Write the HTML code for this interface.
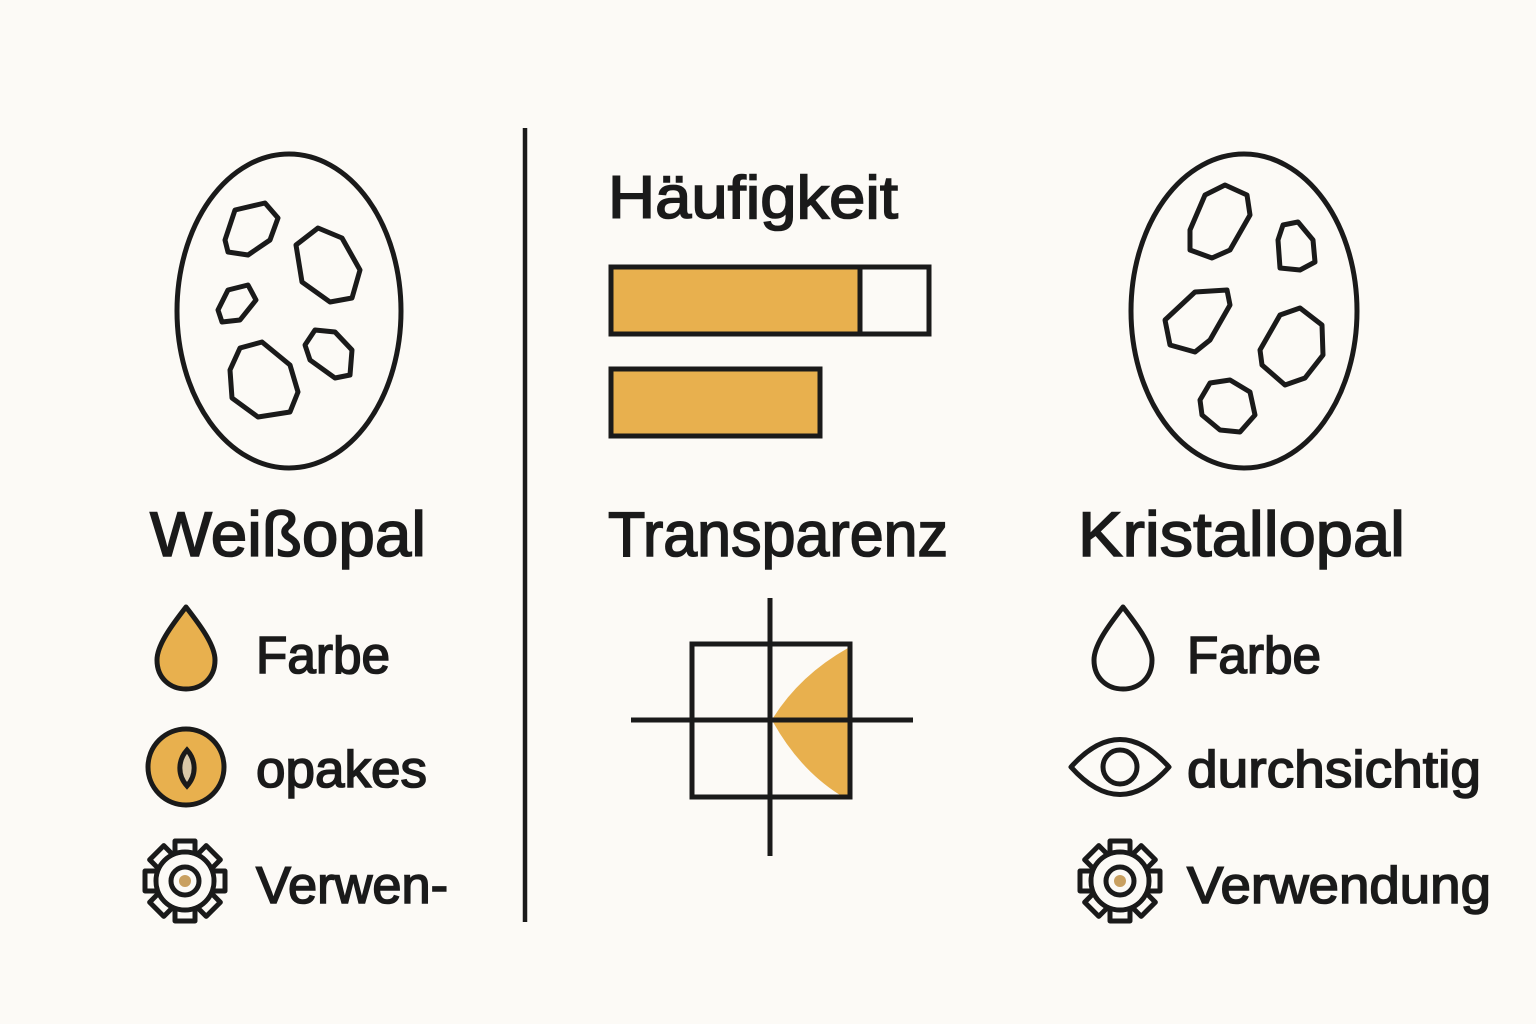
<!DOCTYPE html>
<html><head><meta charset="utf-8"><style>
html,body{margin:0;padding:0;background:#fcfaf6;}
svg{display:block}
text{font-family:"Liberation Sans",sans-serif;fill:#1a1a1a;stroke:#1a1a1a;stroke-width:1.6px;}
</style></head><body>
<svg width="1536" height="1024" viewBox="0 0 1536 1024" xmlns="http://www.w3.org/2000/svg">
<defs>
<g id="gear">
  <g fill="#fcfaf6" stroke="#1a1a1a" stroke-width="5" stroke-linejoin="round">
    <rect x="-10" y="-40" width="20" height="16" transform="rotate(0)"/>
    <rect x="-10" y="-40" width="20" height="16" transform="rotate(45)"/>
    <rect x="-10" y="-40" width="20" height="16" transform="rotate(90)"/>
    <rect x="-10" y="-40" width="20" height="16" transform="rotate(135)"/>
    <rect x="-10" y="-40" width="20" height="16" transform="rotate(180)"/>
    <rect x="-10" y="-40" width="20" height="16" transform="rotate(225)"/>
    <rect x="-10" y="-40" width="20" height="16" transform="rotate(270)"/>
    <rect x="-10" y="-40" width="20" height="16" transform="rotate(315)"/>
  </g>
  <circle r="29" fill="#fcfaf6" stroke="#1a1a1a" stroke-width="5"/>
  <circle r="26.5" fill="#fcfaf6"/>
  <circle r="14" fill="none" stroke="#1a1a1a" stroke-width="5"/>
  <circle r="6" fill="#c9a060"/>
</g>
</defs>
<g fill="none" stroke="#1a1a1a" stroke-width="5" stroke-linejoin="round">
  <ellipse cx="289" cy="311" rx="112" ry="157"/>
  <ellipse cx="1244" cy="311" rx="113" ry="157"/>
  <path d="M225,240 L235,210 L265,203 L278,218 L270,240 L248,255 L228,252 Z"/>
  <path d="M296,245 L318,228 L342,238 L360,270 L352,298 L330,302 L302,282 Z"/>
  <path d="M218,310 L228,290 L248,285 L256,300 L240,320 L222,322 Z"/>
  <path d="M230,370 L240,348 L262,342 L290,365 L298,392 L290,412 L258,417 L232,398 Z"/>
  <path d="M305,345 L315,330 L335,332 L352,350 L350,375 L335,378 L310,360 Z"/>
  <path d="M1190,230 L1205,195 L1225,185 L1247,195 L1250,215 L1230,250 L1212,258 L1190,250 Z"/>
  <path d="M1278,240 L1283,225 L1298,222 L1313,240 L1315,262 L1300,270 L1280,268 Z"/>
  <path d="M1165,320 L1195,292 L1227,290 L1230,305 L1210,340 L1195,352 L1170,345 Z"/>
  <path d="M1260,350 L1280,315 L1300,308 L1322,325 L1323,355 L1305,378 L1285,385 L1262,365 Z"/>
  <path d="M1200,400 L1210,383 L1230,380 L1250,392 L1255,415 L1240,432 L1220,430 L1202,415 Z"/>
</g>
<line x1="525" y1="128" x2="525" y2="922" stroke="#1a1a1a" stroke-width="4.5"/>
<rect x="611" y="267" width="249" height="67" fill="#e8b04e"/>
<rect x="611" y="267" width="318" height="67" fill="none" stroke="#1a1a1a" stroke-width="5"/>
<line x1="860" y1="267" x2="860" y2="334" stroke="#1a1a1a" stroke-width="5"/>
<rect x="611" y="369" width="209" height="67" fill="#e8b04e" stroke="#1a1a1a" stroke-width="5"/>
<path d="M773,718 Q800,675 848,648 L848,795 L840,795 Q800,770 773,722 Z" fill="#e8b04e"/>
<g stroke="#1a1a1a" stroke-width="5" fill="none">
  <rect x="692" y="644" width="158" height="153"/>
  <line x1="770" y1="598" x2="770" y2="856"/>
  <line x1="631" y1="720" x2="913" y2="720"/>
</g>
<text x="150" y="556" font-size="63" textLength="276" lengthAdjust="spacingAndGlyphs">Weißopal</text>
<text x="608" y="218" font-size="60" textLength="290" lengthAdjust="spacingAndGlyphs">Häufigkeit</text>
<text x="608" y="556" font-size="63" textLength="340" lengthAdjust="spacingAndGlyphs">Transparenz</text>
<text x="1078" y="556" font-size="63" textLength="327" lengthAdjust="spacingAndGlyphs">Kristallopal</text>
<text x="256" y="673" font-size="52" textLength="134" lengthAdjust="spacingAndGlyphs">Farbe</text>
<text x="256" y="787" font-size="52" textLength="171" lengthAdjust="spacingAndGlyphs">opakes</text>
<text x="256" y="903" font-size="52" textLength="192" lengthAdjust="spacingAndGlyphs">Verwen-</text>
<text x="1187" y="673" font-size="52" textLength="134" lengthAdjust="spacingAndGlyphs">Farbe</text>
<text x="1187" y="787" font-size="52" textLength="294" lengthAdjust="spacingAndGlyphs">durchsichtig</text>
<text x="1187" y="903" font-size="52" textLength="304" lengthAdjust="spacingAndGlyphs">Verwendung</text>
<path d="M186,607 C200,625 215,645 215,660 C215,678 202,689 186,689 C170,689 157,678 157,660 C157,645 172,625 186,607 Z" fill="#e8b04e" stroke="#1a1a1a" stroke-width="5" stroke-linejoin="round"/>
<circle cx="186" cy="767" r="38" fill="#e8b04e" stroke="#1a1a1a" stroke-width="5"/>
<path d="M187,750 C196,760 197,775 187,786 C177,775 178,760 187,750 Z" fill="#d9c8a8" stroke="#1a1a1a" stroke-width="5"/>
<use href="#gear" x="185" y="881"/>
<path d="M1123,607 C1137,625 1152,645 1152,660 C1152,678 1139,689 1123,689 C1107,689 1094,678 1094,660 C1094,645 1109,625 1123,607 Z" fill="none" stroke="#1a1a1a" stroke-width="5" stroke-linejoin="round"/>
<path d="M1071,767 Q1120,712 1169,767 Q1120,822 1071,767 Z" fill="none" stroke="#1a1a1a" stroke-width="5" stroke-linejoin="round"/>
<circle cx="1120" cy="767" r="17" fill="none" stroke="#1a1a1a" stroke-width="5"/>
<use href="#gear" x="1120" y="881"/>
</svg>
</body></html>
